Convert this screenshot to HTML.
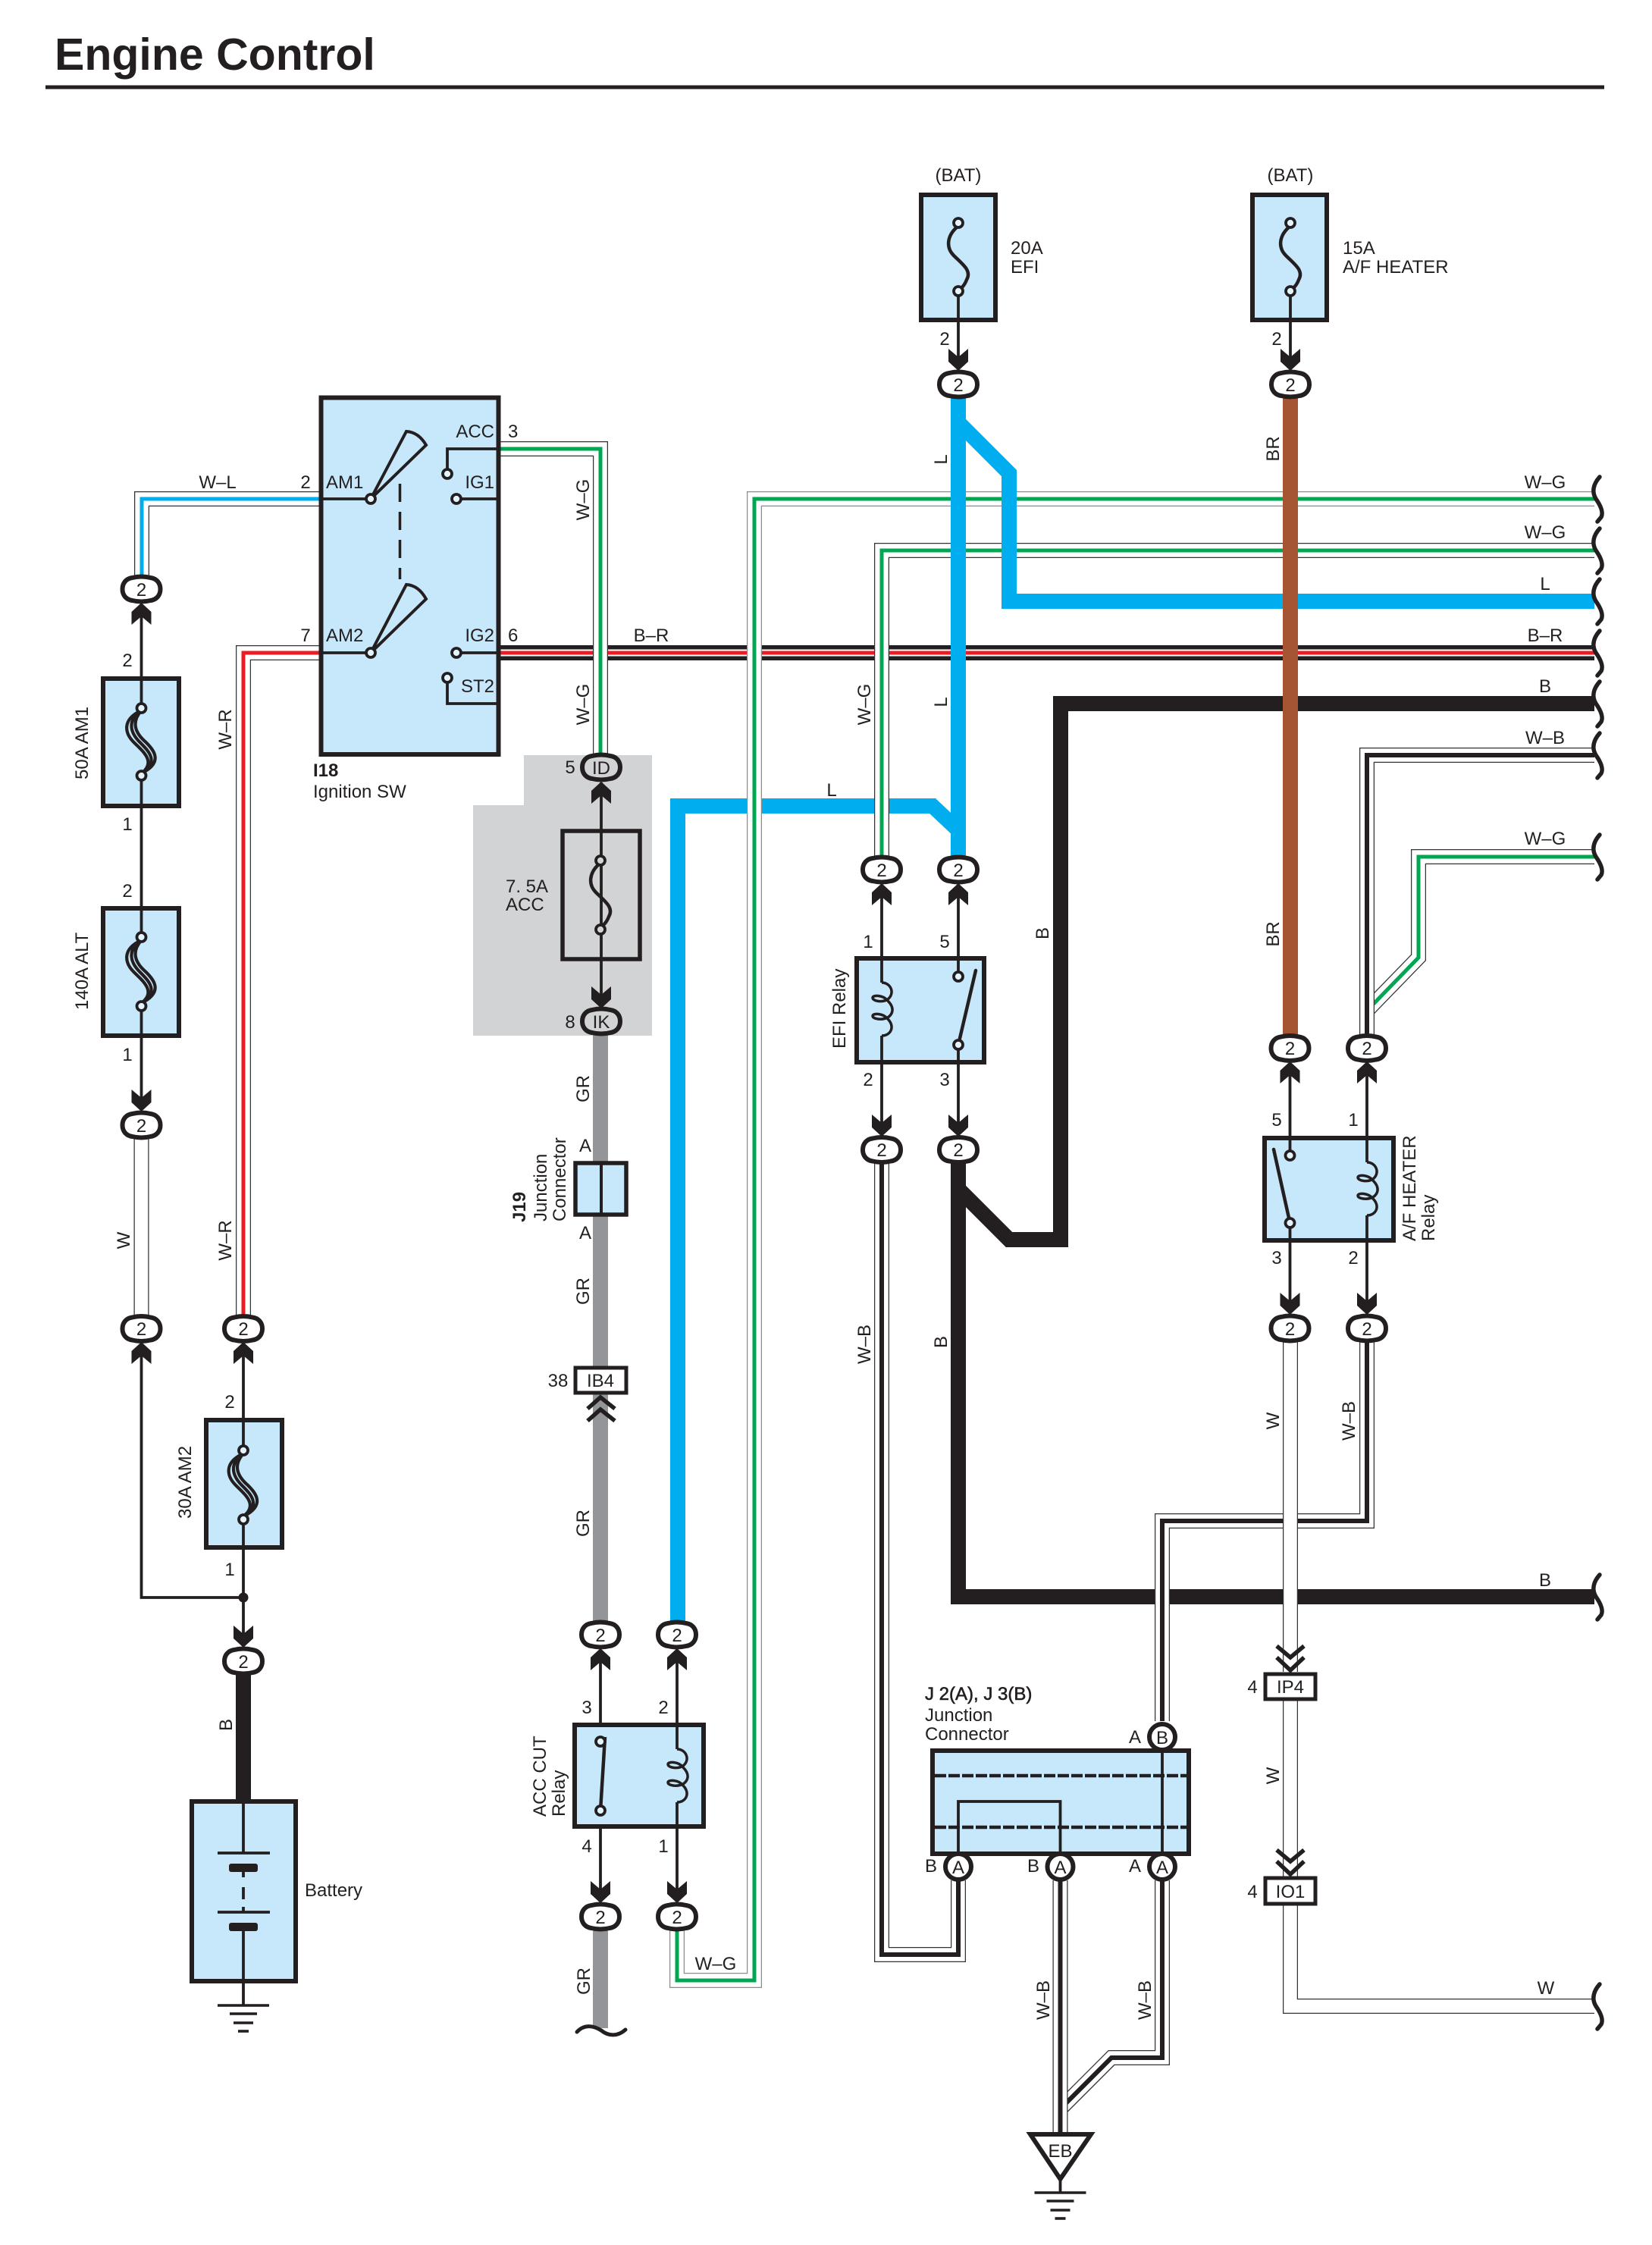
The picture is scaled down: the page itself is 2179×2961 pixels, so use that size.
<!DOCTYPE html>
<html><head><meta charset="utf-8"><title>Engine Control</title>
<style>
html,body{margin:0;padding:0;background:#fff}
svg{display:block}
text{font-family:"Liberation Sans",sans-serif;font-size:24px;fill:#231f20}
.m{text-anchor:middle}
.e{text-anchor:end}
.n{fill:none}
.o{fill:none;stroke:#333;stroke-width:20}
.og{fill:none;stroke:#8a8c8e;stroke-width:20}
.w{fill:none;stroke:#fff;stroke-width:17.5}
.gc{fill:none;stroke:#00a651;stroke-width:5}
.bc{fill:none;stroke:#231f20;stroke-width:6}
.rc{fill:none;stroke:#ed1c24;stroke-width:5}
.lc{fill:none;stroke:#00aeef;stroke-width:5}
.L{fill:none;stroke:#00aeef;stroke-width:20}
.B{fill:none;stroke:#231f20;stroke-width:20}
.GR{fill:none;stroke:#939598;stroke-width:20}
.BR{fill:none;stroke:#a65534;stroke-width:20}
.t{fill:none;stroke:#231f20;stroke-width:3.8}
.box{fill:#c7e8fb;stroke:#231f20;stroke-width:6}
.wb{fill:#fff;stroke:#231f20;stroke-width:5}
.term{fill:#e4f4fd;stroke:#231f20;stroke-width:3.8}
.br{fill:none;stroke:#231f20;stroke-width:5;stroke-linecap:round}
.s3{fill:none;stroke:#231f20;stroke-width:3.5}
.cir{fill:#fff;stroke:#231f20;stroke-width:6}
</style></head>
<body>
<svg xmlns="http://www.w3.org/2000/svg" width="2179" height="2961" viewBox="0 0 2179 2961">
<defs>
<path id="c" stroke="#231f20" stroke-width="6" d="M-12,-15 Q0,-18 12,-15 C20,-14 25,-8 25,0 C25,8 20,14 12,15 Q0,18 -12,15 C-20,14 -25,8 -25,0 C-25,-8 -20,-14 -12,-15Z"/>
<path id="up" fill="#231f20" d="M0,0 L13,12 V29 L0,18 L-13,29 V12Z"/>
<path id="dn" fill="#231f20" d="M0,0 L13,-12 V-29 L0,-18 L-13,-29 V-12Z"/>
<path id="coil" fill="none" stroke="#231f20" stroke-width="3.5" d="M0,0 C12,0 18,14 8,22 C0,27 -12,24 -12,20 C-12,16 2,16 8,24 C18,34 14,42 8,46 C0,50 -12,48 -12,44 C-12,40 2,40 8,48 C18,58 12,70 0,70"/>
<path id="brace" fill="none" stroke="#231f20" stroke-width="5.5" stroke-linecap="round" d="M6,-29 C-2,-20 -5,-10 1,0 C8,10 11,18 8,24 L3,30"/>
<g id="link" fill="none" stroke="#231f20" stroke-width="4.2">
<path d="M0,4 C-26,16 -22,34 -10,46 C2,58 20,72 0,87"/>
<path d="M0,4 C-20,18 -14,34 -2,46 C10,58 24,72 0,87"/>
<path d="M0,4 C-14,20 -8,34 6,46 C16,56 30,72 0,87"/>
</g>
<path id="fuse" fill="none" stroke="#231f20" stroke-width="4.5" d="M0,3 C-16,16 -16,32 -6,42 C6,54 18,62 11,74 C8,82 4,85 0,88"/>
<g id="gnd" stroke="#231f20" stroke-width="3.6"><path d="M-34,0H34"/><path d="M-18,11H18"/><path d="M-13,23H13"/><path d="M-7,34H7"/></g>
</defs>

<rect width="2179" height="2961" fill="#fff"/>
<text x="72" y="92" style="font-size:59px;font-weight:bold">Engine Control</text>
<path d="M60,115H2116" stroke="#231f20" stroke-width="5"/>

<!-- grey block -->
<path d="M691,996H860V1366H624V1062H691Z" fill="#d1d3d4"/>

<!-- bottom layer wires -->
<path class="B" d="M659,861H2103"/><path d="M659,861H2103" fill="none" stroke="#fff" stroke-width="9"/><path class="rc" d="M659,861H2103"/>
<path class="L" d="M1264,1095 L1230,1063 H894 V2140"/>
<path class="GR" d="M792,1365V2140"/>
<path class="GR" d="M792,2545V2675"/>

<!-- W-G wires -->
<path class="og" d="M893,2545V2612H995V658H2103"/><path class="w" d="M893,2545V2612H995V658H2103"/><path class="gc" d="M893,2545V2612H995V658H2103"/>
<path class="o" d="M1163,1130V726H2103"/><path class="w" d="M1163,1130V726H2103"/><path class="gc" d="M1163,1130V726H2103"/>
<path class="o" d="M659,592H792V1000"/><path class="w" d="M659,592H792V1000"/><path class="gc" d="M659,592H792V1000"/>
<path class="o" d="M2103,1130H1871V1263L1803,1333"/><path class="w" d="M2103,1130H1871V1263L1803,1333"/><path class="gc" d="M2103,1130H1871V1263L1803,1333"/>

<!-- W-L, W-R -->
<path class="o" d="M421,658H187V762"/><path class="w" d="M421,658H187V762"/><path class="lc" d="M421,658H187V762"/>
<path class="o" d="M421,861H321V1737"/><path class="w" d="M421,861H321V1737"/><path class="rc" d="M421,861H321V1737"/>

<!-- L top -->
<path class="L" d="M1264,525V1130"/>
<path class="L" d="M1264,557L1331,624V793H2103"/>

<!-- B thick -->
<path class="B" d="M2103,928H1399V1635H1331L1264,1568"/>
<path class="B" d="M1264,1533V2106H2103"/>
<path class="B" d="M321,2208V2380"/>

<!-- W-B wires -->
<path class="o" d="M1803,1365V996H2103"/><path class="w" d="M1803,1365V996H2103"/><path class="bc" d="M1803,1365V996H2103"/>
<path class="o" d="M1163,1533V2578H1264V2480"/><path class="w" d="M1163,1533V2578H1264V2480"/><path class="bc" d="M1163,1533V2578H1264V2480"/>
<path class="o" d="M1533,2270V2006H1803V1770"/><path class="w" d="M1533,2270V2006H1803V1770"/><path class="bc" d="M1533,2270V2006H1803V1770"/>
<path class="o" d="M1533,2480V2714H1466L1399,2781"/><path class="w" d="M1533,2480V2714H1466L1399,2781"/><path class="bc" d="M1533,2480V2714H1466L1399,2781"/>
<path class="o" d="M1398.5,2480V2815"/><path class="w" d="M1398.5,2480V2815"/><path class="bc" d="M1398.5,2480V2815"/>

<!-- W wires -->
<path class="o" d="M186.5,1500V1735"/><path class="w" d="M186.5,1500V1735"/>
<path class="o" d="M1702,1770V2205"/><path class="w" d="M1702,1770V2205"/>
<path class="o" d="M1702,2243V2475"/><path class="w" d="M1702,2243V2475"/>
<path class="o" d="M1702,2513V2646H2103"/><path class="w" d="M1702,2513V2646H2103"/>

<!-- brown on top -->
<path class="BR" d="M1702,525V1365"/>

<!-- thin lines -->
<path class="t" d="M186.5,797V1464"/>
<path class="t" d="M186.5,1772V2107H321"/>
<path class="t" d="M321,1772V2171"/>
<path class="t" d="M793,1032V1330"/>
<path class="t" d="M792,2176V2508"/>
<path class="t" d="M893,2176V2307M893,2377V2508"/>
<path class="t" d="M1163,1167V1296M1163,1366V1497"/>
<path class="t" d="M1264,1167V1497"/>
<path class="t" d="M1701.5,1402V1732"/>
<path class="t" d="M1803,1402V1533M1803,1603V1732"/>
<path class="t" d="M1264,384V487"/>
<path class="t" d="M1702,384V487"/>
<circle cx="321" cy="2107" r="6.5" fill="#231f20"/>

<!-- right braces -->
<use href="#brace" x="2104" y="658"/>
<use href="#brace" x="2104" y="726"/>
<use href="#brace" x="2104" y="793"/>
<use href="#brace" x="2104" y="861"/>
<use href="#brace" x="2104" y="928"/>
<use href="#brace" x="2104" y="996"/>
<use href="#brace" x="2104" y="1130"/>
<use href="#brace" x="2104" y="2106"/>
<use href="#brace" x="2104" y="2646"/>
<path class="br" d="M761,2680C770,2670 782,2671 793,2678C803,2686 815,2686 825,2677"/>

<!-- Ignition switch -->
<rect class="box" x="423.5" y="524.5" width="234" height="470.5"/>
<path class="t" d="M421,658H489M421,861H489M602,658H659M602,861H659"/>
<path class="t" d="M659,592H590V620M590,900V928H659"/>
<path class="s3" style="stroke-width:4" d="M489,658L536,569Q552,570 562,587Z"/>
<path class="s3" style="stroke-width:4" d="M489,861L536,771Q552,772 562,790Z"/>
<path d="M527.5,638V764" stroke="#231f20" stroke-width="3.5" stroke-dasharray="24 13" fill="none"/>
<circle class="term" cx="489" cy="658" r="6"/><circle class="term" cx="602" cy="658" r="6"/><circle class="term" cx="590" cy="625" r="6"/>
<circle class="term" cx="489" cy="861" r="6"/><circle class="term" cx="602" cy="861" r="6"/><circle class="term" cx="590" cy="894" r="6"/>
<text x="430" y="644">AM1</text><text x="430" y="846">AM2</text>
<text class="e" x="652" y="577">ACC</text><text class="e" x="652" y="644">IG1</text><text class="e" x="652" y="846">IG2</text><text class="e" x="652" y="913">ST2</text>
<text x="670" y="577">3</text><text x="670" y="846">6</text>
<text class="m" x="403" y="644">2</text><text class="m" x="403" y="846">7</text>
<text class="m" x="287" y="644">W–L</text>
<text class="m" x="859" y="846">B–R</text>
<text x="413" y="1024" style="font-weight:bold">I18</text>
<text x="413" y="1052">Ignition SW</text>

<!-- big fuses left -->
<rect class="box" x="136" y="895" width="100" height="168"/>
<path class="t" d="M186.5,895V933M186.5,1024V1063"/>
<use href="#link" x="186.5" y="933"/>
<circle class="term" cx="186.5" cy="934" r="6"/><circle class="term" cx="186.5" cy="1023" r="6"/>
<rect class="box" x="136" y="1198" width="100" height="168"/>
<use href="#link" x="186.5" y="1236"/>
<circle class="term" cx="186.5" cy="1236" r="6"/><circle class="term" cx="186.5" cy="1327" r="6"/>
<path class="t" d="M186.5,1198V1231M186.5,1332V1366"/>
<rect class="box" x="272" y="1873" width="100" height="168"/>
<path class="t" d="M321,1873V1913M321,2004V2041"/>
<use href="#link" x="321" y="1913"/>
<circle class="term" cx="321" cy="1913" r="6"/><circle class="term" cx="321" cy="2004" r="6"/>

<text class="m" x="168" y="879">2</text><text class="m" x="168" y="1095">1</text>
<text class="m" x="168" y="1183">2</text><text class="m" x="168" y="1399">1</text>
<text class="m" x="303" y="1857">2</text><text class="m" x="303" y="2078">1</text>
<text transform="translate(116,1028) rotate(-90)">50A AM1</text>
<text transform="translate(116,1332) rotate(-90)">140A ALT</text>
<text transform="translate(252,2003) rotate(-90)">30A AM2</text>
<text class="m" transform="translate(171,1636) rotate(-90)">W</text>
<text class="m" transform="translate(305,962) rotate(-90)">W–R</text>
<text class="m" transform="translate(305,1636) rotate(-90)">W–R</text>
<text class="m" transform="translate(306,2275) rotate(-90)">B</text>

<!-- Battery -->
<rect class="box" x="253" y="2376" width="137" height="237"/>
<path class="t" d="M321,2376V2444M321,2464V2476M321,2489V2505M321,2515V2522M321,2542V2645"/>
<path class="t" d="M287,2444H356M287,2522H356"/>
<rect x="302" y="2458" width="38" height="11" rx="3" fill="#231f20"/>
<rect x="302" y="2536" width="38" height="11" rx="3" fill="#231f20"/>
<use href="#gnd" x="321" y="2645"/>
<text x="402" y="2501">Battery</text>

<!-- ACC fuse -->
<rect x="742" y="1096" width="102" height="169" fill="none" stroke="#231f20" stroke-width="5.5"/>
<use href="#fuse" x="792" y="1135"/>
<circle class="term" style="fill:#d1d3d4" cx="792" cy="1135" r="6"/><circle class="term" style="fill:#d1d3d4" cx="792" cy="1226" r="6"/>
<text x="667" y="1177">7. 5A</text><text x="667" y="1201">ACC</text>
<text class="m" x="752" y="1020">5</text><text class="m" x="752" y="1356">8</text>
<use href="#c" x="793" y="1012" fill="#d1d3d4"/><text class="m" x="793" y="1021">ID</text>
<use href="#c" x="793" y="1347" fill="#d1d3d4"/><text class="m" x="793" y="1356">IK</text>

<!-- J19 + IB4 -->
<rect class="box" style="stroke-width:5.5" x="759" y="1534" width="67" height="68"/>
<path d="M793,1534V1602" stroke="#231f20" stroke-width="4"/>
<text class="m" x="772" y="1519">A</text><text class="m" x="772" y="1634">A</text>
<text transform="translate(693,1612) rotate(-90)" style="font-weight:bold">J19</text>
<text transform="translate(721,1611) rotate(-90)">Junction</text>
<text transform="translate(746,1611) rotate(-90)">Connector</text>
<rect class="wb" x="759" y="1804" width="67" height="33"/>
<text class="m" x="792" y="1829">IB4</text><text class="m" x="736" y="1829">38</text>
<path d="M775,1858L792,1843L811,1858M775,1874L792,1859L811,1874" fill="none" stroke="#231f20" stroke-width="5.5"/>

<!-- ACC CUT relay -->
<rect class="box" x="758" y="2275" width="170" height="134"/>
<path class="t" d="M893,2275V2307M893,2377V2409"/>
<use href="#coil" x="893" y="2307"/>
<path d="M792,2388L798,2291" stroke="#231f20" stroke-width="4.5" fill="none"/>
<circle class="term" cx="792" cy="2297" r="6"/><circle class="term" cx="792" cy="2388" r="6"/>
<text transform="translate(720,2396) rotate(-90)">ACC CUT</text>
<text transform="translate(745,2396) rotate(-90)">Relay</text>
<text class="m" x="774" y="2260">3</text><text class="m" x="875" y="2260">2</text>
<text class="m" x="774" y="2443">4</text><text class="m" x="875" y="2443">1</text>

<!-- EFI relay -->
<rect class="box" x="1130" y="1264" width="168" height="137"/>
<path class="t" d="M1163,1264V1296M1163,1366V1401"/>
<use href="#coil" x="1163" y="1296"/>
<path d="M1264,1378L1287,1280" stroke="#231f20" stroke-width="4.5" stroke-linecap="round" fill="none"/>
<path class="t" d="M1264,1264V1288M1264,1378V1401"/>
<circle class="term" cx="1264" cy="1288" r="6"/><circle class="term" cx="1264" cy="1378" r="6"/>
<text transform="translate(1115,1383) rotate(-90)">EFI Relay</text>
<text class="m" x="1145" y="1250">1</text><text class="m" x="1246" y="1250">5</text>
<text class="m" x="1145" y="1432">2</text><text class="m" x="1246" y="1432">3</text>

<!-- A/F relay -->
<rect class="box" x="1668" y="1501" width="170" height="135"/>
<path class="t" d="M1803,1501V1533M1803,1603V1636"/>
<use href="#coil" x="1803" y="1533"/>
<path d="M1701.5,1613L1680,1516" stroke="#231f20" stroke-width="4.5" stroke-linecap="round" fill="none"/>
<path class="t" d="M1701.5,1501V1524M1701.5,1613V1636"/>
<circle class="term" cx="1701.5" cy="1524" r="6"/><circle class="term" cx="1701.5" cy="1613" r="6"/>
<text transform="translate(1867,1637) rotate(-90)">A/F HEATER</text>
<text transform="translate(1892,1637) rotate(-90)">Relay</text>
<text class="m" x="1684" y="1485">5</text><text class="m" x="1785" y="1485">1</text>
<text class="m" x="1684" y="1667">3</text><text class="m" x="1785" y="1667">2</text>

<!-- BAT fuses -->
<rect class="box" x="1215" y="257" width="98" height="165"/>
<use href="#fuse" x="1264" y="295"/>
<path class="t" d="M1264,384V422"/>
<circle class="term" cx="1264" cy="294" r="6"/><circle class="term" cx="1264" cy="384" r="6"/>
<rect class="box" x="1652" y="257" width="98" height="165"/>
<use href="#fuse" x="1702" y="295"/>
<path class="t" d="M1702,384V422"/>
<circle class="term" cx="1702" cy="294" r="6"/><circle class="term" cx="1702" cy="384" r="6"/>
<text class="m" x="1264" y="239">(BAT)</text><text class="m" x="1702" y="239">(BAT)</text>
<text x="1333" y="335">20A</text><text x="1333" y="360">EFI</text>
<text x="1771" y="335">15A</text><text x="1771" y="360">A/F HEATER</text>
<text class="m" x="1246" y="455">2</text><text class="m" x="1684" y="455">2</text>

<!-- Junction connector -->
<rect class="box" x="1230" y="2309" width="338" height="136"/>
<path d="M1233,2342H1565M1233,2410H1565" stroke="#231f20" stroke-width="4.5" stroke-dasharray="15 3" fill="none"/>
<path class="t" d="M1533,2309V2445M1264,2445V2376H1398.5V2445"/>
<circle class="cir" cx="1533" cy="2291" r="17"/><text class="m" x="1533" y="2300">B</text>
<circle class="cir" cx="1264" cy="2462" r="17"/><text class="m" x="1264" y="2471">A</text>
<circle class="cir" cx="1398.5" cy="2462" r="17"/><text class="m" x="1398.5" y="2471">A</text>
<circle class="cir" cx="1533" cy="2462" r="17"/><text class="m" x="1533" y="2471">A</text>
<text class="m" x="1497" y="2299">A</text><text class="m" x="1228" y="2469">B</text><text class="m" x="1363" y="2469">B</text><text class="m" x="1497" y="2469">A</text>
<text x="1220" y="2242" style="stroke:#231f20;stroke-width:.6">J 2(A), J 3(B)</text>
<text x="1220" y="2270">Junction</text><text x="1220" y="2295">Connector</text>

<!-- EB -->
<path d="M1359,2815H1439L1398.5,2874Z" fill="#fff" stroke="#231f20" stroke-width="6"/>
<text class="m" x="1398.5" y="2845">EB</text>
<path class="t" d="M1398.5,2874V2892"/>
<use href="#gnd" x="1398.5" y="2892"/>

<!-- IP4 / IO1 -->
<rect class="wb" x="1669" y="2208" width="66" height="33"/><text class="m" x="1702" y="2233">IP4</text><text class="m" x="1652" y="2233">4</text>
<rect class="wb" x="1669" y="2477" width="66" height="34"/><text class="m" x="1702" y="2503">IO1</text><text class="m" x="1652" y="2503">4</text>
<path d="M1684,2171L1702,2186L1720,2171M1684,2186L1702,2203L1720,2186" fill="none" stroke="#231f20" stroke-width="5.5"/>
<path d="M1684,2440L1702,2455L1720,2440M1684,2455L1702,2472L1720,2455" fill="none" stroke="#231f20" stroke-width="5.5"/>

<!-- arrows -->
<use href="#up" x="186.5" y="795"/><use href="#up" x="186.5" y="1770"/><use href="#up" x="321" y="1770"/>
<use href="#up" x="793" y="1031"/><use href="#up" x="792" y="2174"/><use href="#up" x="893" y="2174"/>
<use href="#up" x="1163" y="1165"/><use href="#up" x="1264" y="1165"/><use href="#up" x="1701.5" y="1400"/><use href="#up" x="1803" y="1400"/>
<use href="#dn" x="186.5" y="1466"/><use href="#dn" x="321" y="2173"/><use href="#dn" x="793" y="1330"/>
<use href="#dn" x="792" y="2510"/><use href="#dn" x="893" y="2510"/>
<use href="#dn" x="1163" y="1499"/><use href="#dn" x="1264" y="1499"/><use href="#dn" x="1701.5" y="1734"/><use href="#dn" x="1803" y="1734"/>
<use href="#dn" x="1264" y="489"/><use href="#dn" x="1702" y="489"/>

<!-- connectors "2" -->
<g fill="#fff">
<use href="#c" x="186.5" y="777"/><use href="#c" x="186.5" y="1484"/><use href="#c" x="186.5" y="1752.5"/>
<use href="#c" x="321" y="1752.5"/><use href="#c" x="321" y="2191"/>
<use href="#c" x="792" y="2156"/><use href="#c" x="893" y="2156"/><use href="#c" x="792" y="2528"/><use href="#c" x="893" y="2528"/>
<use href="#c" x="1163" y="1147"/><use href="#c" x="1264" y="1147"/><use href="#c" x="1163" y="1516.5"/><use href="#c" x="1264" y="1516.5"/>
<use href="#c" x="1701.5" y="1382.5"/><use href="#c" x="1803" y="1382.5"/><use href="#c" x="1701.5" y="1752"/><use href="#c" x="1803" y="1752"/>
<use href="#c" x="1264" y="507"/><use href="#c" x="1702" y="507"/>
</g>
<g style="text-anchor:middle">
<text x="186.5" y="786">2</text><text x="186.5" y="1493">2</text><text x="186.5" y="1761">2</text>
<text x="321" y="1761">2</text><text x="321" y="2200">2</text>
<text x="792" y="2165">2</text><text x="893" y="2165">2</text><text x="792" y="2537">2</text><text x="893" y="2537">2</text>
<text x="1163" y="1156">2</text><text x="1264" y="1156">2</text><text x="1163" y="1525">2</text><text x="1264" y="1525">2</text>
<text x="1701.5" y="1391">2</text><text x="1803" y="1391">2</text><text x="1701.5" y="1761">2</text><text x="1803" y="1761">2</text>
<text x="1264" y="516">2</text><text x="1702" y="516">2</text>
</g>

<!-- wire labels -->
<text class="m" x="2038" y="644">W–G</text>
<text class="m" x="2038" y="710">W–G</text>
<text class="m" x="2038" y="778">L</text>
<text class="m" x="2038" y="846">B–R</text>
<text class="m" x="2038" y="913">B</text>
<text class="m" x="2038" y="981">W–B</text>
<text class="m" x="2038" y="1114">W–G</text>
<text class="m" x="2038" y="2092">B</text>
<text class="m" x="2039" y="2630">W</text>
<text class="m" x="1097" y="1050">L</text>
<text class="m" x="944" y="2598">W–G</text>
<text class="m" transform="translate(777,659) rotate(-90)">W–G</text>
<text class="m" transform="translate(777,929) rotate(-90)">W–G</text>
<text class="m" transform="translate(1148,929) rotate(-90)">W–G</text>
<text class="m" transform="translate(1249,606) rotate(-90)">L</text>
<text class="m" transform="translate(1249,926) rotate(-90)">L</text>
<text class="m" transform="translate(1687,592) rotate(-90)">BR</text>
<text class="m" transform="translate(1687,1232) rotate(-90)">BR</text>
<text class="m" transform="translate(1383,1231) rotate(-90)">B</text>
<text class="m" transform="translate(1249,1770) rotate(-90)">B</text>
<text class="m" transform="translate(1148,1773) rotate(-90)">W–B</text>
<text class="m" transform="translate(1687,1874) rotate(-90)">W</text>
<text class="m" transform="translate(1787,1874) rotate(-90)">W–B</text>
<text class="m" transform="translate(1687,2342) rotate(-90)">W</text>
<text class="m" transform="translate(777,1436) rotate(-90)">GR</text>
<text class="m" transform="translate(777,1703) rotate(-90)">GR</text>
<text class="m" transform="translate(777,2009) rotate(-90)">GR</text>
<text class="m" transform="translate(778,2613) rotate(-90)">GR</text>
<text class="m" transform="translate(1384,2638) rotate(-90)">W–B</text>
<text class="m" transform="translate(1518,2638) rotate(-90)">W–B</text>
</svg>
</body></html>
